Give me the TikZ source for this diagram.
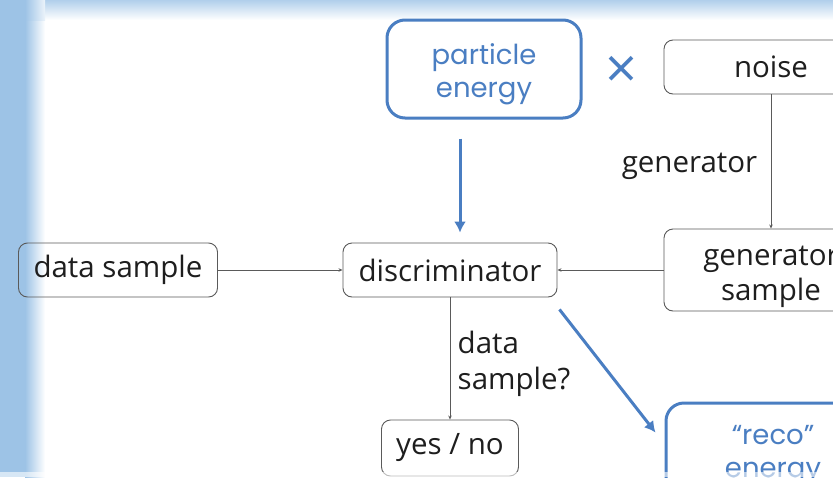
\documentclass[tikz,border=0pt]{standalone}
\usepackage{fontspec}
\setmainfont{Open Sans}
\newfontfamily\bluefont{Poppins}
\usetikzlibrary{arrows.meta,calc}

\definecolor{slideblue}{HTML}{4A7EC2}
\definecolor{bandblue}{HTML}{9DC3E6}
\definecolor{boxgray}{HTML}{5A5A5A}
\definecolor{textgray}{HTML}{1E1E1E}

\tikzset{
  graybox/.style={draw=boxgray, line width=0.9pt, rounded corners=9pt, minimum height=54pt,
    text=textgray, align=center, font=\fontsize{29.5}{35}\selectfont},
  bluebox/.style={draw=slideblue, line width=3pt, rounded corners=18pt,
    text=slideblue, align=center, font=\bluefont\fontsize{27.5}{33}\selectfont},
  graytext/.style={text=textgray, align=center, font=\fontsize{29.5}{35}\selectfont},
  bluetext/.style={text=slideblue, align=center, font=\bluefont\fontsize{27.5}{33}\selectfont},
  grayarrow/.style={draw=boxgray, line width=0.8pt, -{Stealth[length=4pt,width=3.5pt]}},
  bluearrow/.style={draw=slideblue, line width=3pt, -{Latex[length=11pt,width=12pt]}},
  edgelabel/.style={text=textgray, font=\fontsize{29.5}{36}\selectfont, align=left}
}

\begin{document}
\begin{tikzpicture}[x=1pt,y=-1pt]
  \useasboundingbox (0,0) rectangle (833,477);
  % slide background
  \fill[white] (0,0) rectangle (833,477);
  \shade[top color=bandblue!80, bottom color=white] (0,0) rectangle (833,20);
  \fill[bandblue] (0,0) rectangle (25,477);
  \shade[left color=bandblue, right color=white] (25,20) rectangle (45,477);
  \shade[left color=bandblue, right color=bandblue!20] (25,0) rectangle (45,20);

  % nodes
  \node[bluebox, minimum width=194pt, minimum height=98pt,
    label={[bluetext, yshift=-5.5pt]center:particle\\energy}] (energy) at (484,69) {};
  \node[text=slideblue, font=\fontsize{56}{56}\selectfont, inner sep=0pt] (times) at (622,72) {×};
  \node[graybox, minimum width=214pt] (noise) at (771,67) {noise};
  \node[graybox, minimum width=214pt, minimum height=82pt,
    label={[graytext, yshift=-6.5pt]center:generator\\sample}] (gensample) at (771,270) {};
  \node[graybox, minimum width=214pt] (disc) at (450,270) {discriminator};
  \node[graybox, minimum width=199pt] (data) at (118,270) {data sample};
  \node[graybox, minimum width=137pt, minimum height=56pt] (yesno) at (450,448) {yes / no};
  \node[bluebox, minimum width=214pt, minimum height=104pt] (reco) at (773,455) {“reco”\\energy};

  % connectors
  \draw[grayarrow] (noise) -- node[edgelabel, left=10pt, yshift=-5pt] (genlabel) {generator} (gensample);
  \draw[grayarrow] (data) -- (disc);
  \draw[grayarrow] (gensample) -- (disc);
  \draw[grayarrow] (disc) -- node[edgelabel, right=4pt, yshift=-5pt] (question) {data\\sample?} (yesno);
  \draw[bluearrow, shorten <=19pt, shorten >=10pt] ([xshift=-24pt]energy.south) -- ([xshift=10pt]disc.north);
  \draw[bluearrow] ($(disc.south east)+(2,12)$) -- ($(reco.north west)+(-9,31)$);

  % faded lower edge
  \fill[white, opacity=0.6] (0,472) rectangle (833,477);
\end{tikzpicture}
\end{document}
